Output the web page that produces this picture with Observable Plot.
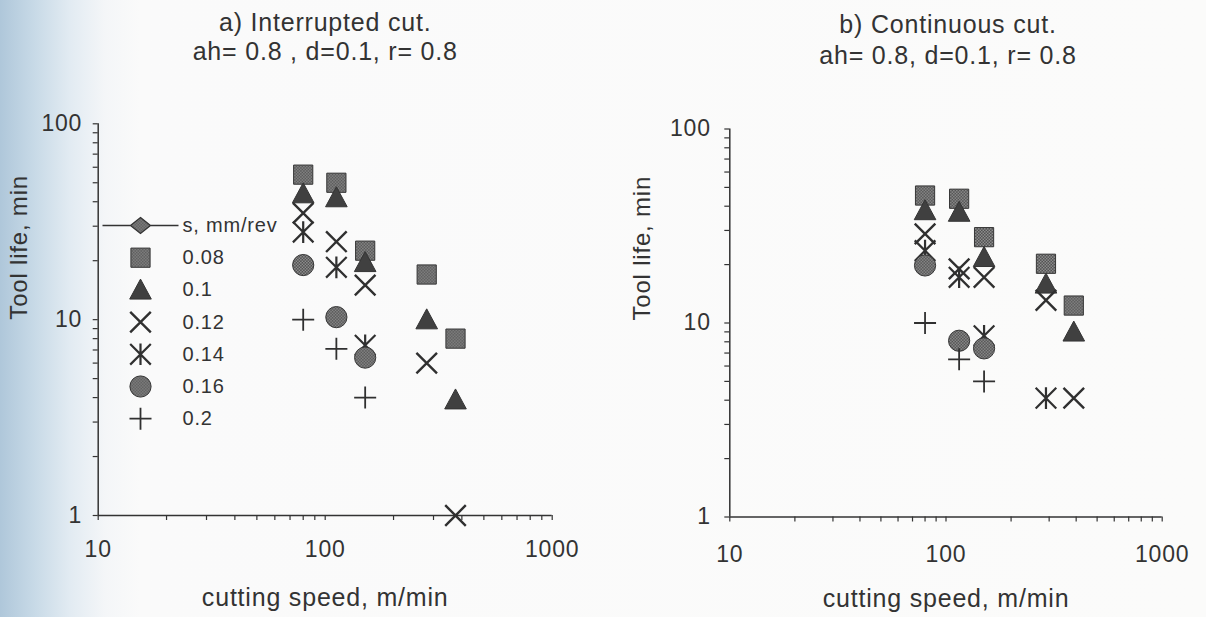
<!DOCTYPE html>
<html><head><meta charset="utf-8">
<script src="https://cdn.jsdelivr.net/npm/d3@7"></script>
<script src="https://cdn.jsdelivr.net/npm/@observablehq/plot@0.6"></script>
<style>
html,body{margin:0;padding:0;}
body{width:1206px;height:617px;overflow:hidden;
  background:linear-gradient(to right,#afc7da 0px,#c8dae7 35px,#e2ebf2 70px,#f4f6f8 105px,#fafafa 140px,#fbfbfa 100%);
  font-family:"Liberation Sans",Arial,sans-serif;}
#wrap{position:relative;width:1206px;height:617px;}
#wrap > svg{position:absolute;top:0;}
</style></head>
<body>
<svg width="0" height="0" style="position:absolute">
  <defs>
    <pattern id="stip" width="3" height="3" patternUnits="userSpaceOnUse">
      <rect width="3" height="3" fill="#444444"/>
      <rect width="1.5" height="1.5" fill="#9a9a9a"/>
      <rect x="1.5" y="1.5" width="1.5" height="1.5" fill="#9a9a9a"/>
    </pattern>
  </defs>
</svg>
<div id="wrap"></div>
<script>
// ---------- data ----------
const feeds = ["0.08", "0.1", "0.12", "0.14", "0.16", "0.2"];
const legendTitle = "s, mm/rev";

// a) Interrupted cut
const speedA = [80, 112, 150, 280, 375];
const lifeA_008 = [55, 50, 22.5, 17, 8];
const lifeA_010 = [44, 42, 19.6, 10, 3.9];
const lifeA_012 = [35, 25, 15, 6, 1];
const lifeA_014 = [28, 18.5, 7.4];
const lifeA_016 = [19, 10.3, 6.4];
const lifeA_020 = [10, 7.1, 4];

// b) Continuous cut
const speedB = [80, 115, 150, 290, 390];
const lifeB_008 = [45.4, 43.7, 27.7, 20.2, 12.3];
const lifeB_010 = [38, 37.3, 21.8, 15.9, 9];
const lifeB_012 = [28.8, 19, 17.2, 13.1, 4.1];
const lifeB_014 = [23.6, 17.2, 8.6, 4.1];
const lifeB_016 = [19.8, 8.1, 7.4];
const lifeB_020 = [10, 6.5, 5];

const xTickLabels = [10, 100, 1000];
const yTickLabels = [1, 10, 100];
const titleA = ["a) Interrupted cut.", "ah= 0.8 , d=0.1, r= 0.8"];
const titleB = ["b) Continuous cut.", "ah= 0.8, d=0.1, r= 0.8"];
const xLabel = "cutting speed, m/min";
const yLabel = "Tool life, min";

// ---------- symbols ----------
const R = s => Math.sqrt(s / Math.PI);
const symSquare = {draw(c, s) { const r = R(s); c.rect(-r, -r, 2 * r, 2 * r); }};
const symTriangle = {draw(c, s) { const r = R(s); c.moveTo(0, -r); c.lineTo(r, 0.85 * r); c.lineTo(-r, 0.85 * r); c.closePath(); }};
const symX = {draw(c, s) { const r = R(s); c.moveTo(-r, -r); c.lineTo(r, r); c.moveTo(-r, r); c.lineTo(r, -r); }};
const symAst = {draw(c, s) { const r = R(s); c.moveTo(-r, -r); c.lineTo(r, r); c.moveTo(-r, r); c.lineTo(r, -r); c.moveTo(0, -1.05 * r); c.lineTo(0, 1.05 * r); }};
const symCircle = {draw(c, s) { const r = R(s); c.moveTo(r, 0); c.arc(0, 0, r, 0, 2 * Math.PI); c.closePath(); }};
const symPlus = {draw(c, s) { const r = R(s); c.moveTo(-r, 0); c.lineTo(r, 0); c.moveTo(0, -r); c.lineTo(0, r); }};
const symLineDiamond = {draw(c, s) { const r = R(s); const L = 3.8 * r;
  c.moveTo(-L, 0); c.lineTo(-r, 0); c.moveTo(r, 0); c.lineTo(L, 0);
  c.moveTo(0, -0.8 * r); c.lineTo(r, 0); c.lineTo(0, 0.8 * r); c.lineTo(-r, 0); c.closePath(); }};

const styles = [
  {symbol: symSquare,   r: 9.6,  fill: "url(#stip)", stroke: "#363636", strokeWidth: 1},
  {symbol: symTriangle, r: 10.8, fill: "#404040",    stroke: "#343434", strokeWidth: 1},
  {symbol: symX,        r: 10.3, fill: "none",       stroke: "#303030", strokeWidth: 2.4},
  {symbol: symAst,      r: 10.3, fill: "none",       stroke: "#303030", strokeWidth: 2.2},
  {symbol: symCircle,   r: 10.6, fill: "url(#stip)", stroke: "#363636", strokeWidth: 1},
  {symbol: symPlus,     r: 11,   fill: "none",       stroke: "#303030", strokeWidth: 1.8}
];

const pts = (speeds, lives) => lives.map((v, i) => ({speed: speeds[i], life: v}));
const seriesA = [lifeA_008, lifeA_010, lifeA_012, lifeA_014, lifeA_016, lifeA_020].map(l => pts(speedA, l));
const seriesB = [lifeB_008, lifeB_010, lifeB_012, lifeB_014, lifeB_016, lifeB_020].map(l => pts(speedB, l));

const decadeTicks = (lo, hi) => { const t = []; for (let p = lo; p < hi; p *= 10) for (let k = 1; k < 10; k++) t.push(p * k); t.push(hi); return t; };
const xTicks = decadeTicks(10, 1000);
const yTicks = decadeTicks(1, 100);

function panel({series, title, geom, legend}) {
  const txt = {fill: "#333", lineAnchor: "middle"};
  const marks = [
    Plot.axisX({ticks: xTicks, tickFormat: d => xTickLabels.includes(d) ? String(d) : "", tickSize: 5,
      tickPadding: geom.xPad, fontSize: 23, label: null, color: "#333", strokeWidth: 1.2}),
    Plot.axisY({ticks: yTicks, tickFormat: d => yTickLabels.includes(d) ? String(d) : "", tickSize: 5,
      tickPadding: geom.yPad, fontSize: 23, label: null, color: "#333", strokeWidth: 1.2}),
    Plot.ruleX([10], {stroke: "#333", strokeWidth: 1.5}),
    Plot.ruleY([1], {stroke: "#333", strokeWidth: 1.5}),
    Plot.text([title[0]], {frameAnchor: "top", dx: geom.titleDx, dy: geom.t1, fontSize: 25, ...txt}),
    Plot.text([title[1]], {frameAnchor: "top", dx: geom.titleDx, dy: geom.t2, fontSize: 25, ...txt}),
    Plot.text([xLabel], {frameAnchor: "bottom", dy: geom.xl, fontSize: 25, ...txt}),
    Plot.text([yLabel], {frameAnchor: "left", rotate: -90, dx: geom.yl, dy: geom.yldy, fontSize: 24, ...txt, style: "letter-spacing:2px"}),
  ];
  series.forEach((data, i) => marks.push(Plot.dot(data, {x: "speed", y: "life", ...styles[i]})));
  if (legend) {
    marks.push(Plot.dot([legendTitle], {frameAnchor: "top-left", dx: 42.3, dy: 101.7, symbol: symLineDiamond, r: 10,
      fill: "url(#stip)", stroke: "#333", strokeWidth: 1.3}));
    marks.push(Plot.text([legendTitle], {frameAnchor: "top-left", dx: 84.3, dy: 101.7, textAnchor: "start", fontSize: 20, ...txt}));
    feeds.forEach((f, i) => {
      const dy = 101.7 + 32.2 * (i + 1);
      marks.push(Plot.dot([f], {frameAnchor: "top-left", dx: 42.3, dy, ...styles[i]}));
      marks.push(Plot.text([f], {frameAnchor: "top-left", dx: 84.3, dy, textAnchor: "start", fontSize: 20, ...txt}));
    });
  }
  const svg = Plot.plot({
    width: geom.width, height: 617,
    marginLeft: geom.ml, marginRight: geom.mr, marginTop: geom.mt, marginBottom: geom.mb,
    x: {type: "log", domain: [10, 1000]},
    y: {type: "log", domain: [1, 100]},
    style: {background: "transparent", fontFamily: "'Liberation Sans', Arial, sans-serif", color: "#333", overflow: "visible", letterSpacing: "0.8px"},
    marks
  });
  svg.style.left = geom.left + "px";
  return svg;
}

const wrap = document.getElementById("wrap");
wrap.appendChild(panel({series: seriesA, title: titleA, legend: true,
  geom: {left: 0, width: 600, ml: 97.7, mr: 48.3, mt: 123.3, mb: 102, xPad: 20, yPad: 11,
         titleDx: 0, t1: -101.3, t2: -72, xl: 82, yl: -78.4, yldy: 0}}));
wrap.appendChild(panel({series: seriesB, title: titleB, legend: false,
  geom: {left: 600, width: 606, ml: 129.3, mr: 44.3, mt: 128.5, mb: 100.5, xPad: 24, yPad: 14,
         titleDx: 2, t1: -104.5, t2: -73, xl: 82.2, yl: -87.3, yldy: -2.5}}));
</script>
</body></html>
